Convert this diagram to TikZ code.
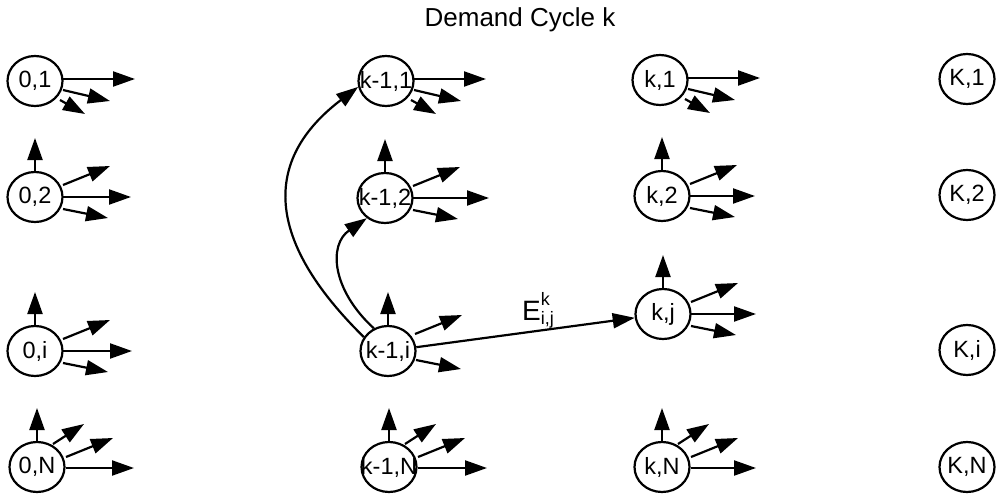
\documentclass[tikz,border=0pt]{standalone}
\usepackage{fontspec}
\setmainfont{Liberation Sans}
\usetikzlibrary{arrows.meta,shapes.geometric}

\newcommand\lblfont{\fontsize{23.5}{23.5}\selectfont}
\newcommand\ttlfont{\fontsize{26}{26}\selectfont}
\newcommand\supfont{\fontsize{18}{18}\selectfont}

% stubs leaving a state: first row (three going right/down)
\newcommand\stubsA[1]{%
  \draw[stub] (#1) ++(28,-2) -- ++(72,0);
  \draw[stub] (#1) ++(28,9) -- ++(47,11);
  \draw[stub] (#1) ++(25,19) -- ++(25,14);}
% middle rows: up, up-right, right, down-right
\newcommand\stubsB[2]{%
  \draw[stub] (#1) ++(0,-25) -- ++(0,-34);
  \draw[stub] (#1) ++(28,-12) -- ++(47,-19);
  \draw[stub] (#1) ++(28,0) -- ++(#2,0);
  \draw[stub] (#1) ++(28,12) -- ++(45,9);}
% last row: up, two rising, right
\newcommand\stubsC[2]{%
  \draw[stub] (#1) ++(0,-26) -- ++(0,-33);
  \draw[stub] (#1) ++(16,-23) -- ++(31,-20);
  \draw[stub] (#1) ++(29,-10) -- ++(47,-19);
  \draw[stub] (#1) ++(29,1) -- ++(#2,0);}

\begin{document}
\begin{tikzpicture}[x=1pt,y=-1pt,
  state/.style={draw, ellipse, line width=2.2pt, minimum width=55pt,
    minimum height=50pt, inner sep=0pt,
    label={[font=\lblfont, inner sep=0pt]center:{#1}}},
  stub/.style={line width=2.2pt, -{Triangle[length=22pt,width=15pt]}},
  link/.style={line width=2.2pt, -{Triangle[length=22pt,width=15pt]}},
]
\useasboundingbox (0,0) rectangle (998,498);

\node[font=\ttlfont, anchor=base] (title) at (520,26) {Demand Cycle k};

% column 0
\node[state={0,1}] (a1) at (35,81) {};
\node[state={0,2}] (a2) at (35,197) {};
\node[state={0,i}] (ai) at (35,351) {};
\node[state={0,N}] (aN) at (37,467) {};
% column k-1
\node[state={k-1,1}] (b1) at (386,81) {};
\node[state={k-1,2}] (b2) at (385,198) {};
\node[state={k-1,i}] (bi) at (388,351) {};
\node[state={k-1,N}] (bN) at (389,467) {};
% column k
\node[state={k,1}] (c1) at (660,80) {};
\node[state={k,2}] (c2) at (662,196) {};
\node[state={k,j}] (cj) at (663,314) {};
\node[state={k,N}] (cN) at (662,467) {};
% column K
\node[state={K,1}] (d1) at (967,79) {};
\node[state={K,2}] (d2) at (967,195) {};
\node[state={K,i}] (di) at (967,350) {};
\node[state={K,N}] (dN) at (967,467) {};

\stubsA{a1}
\stubsB{a2}{68}
\stubsB{ai}{69}
\stubsC{aN}{68}

\stubsA{b1}
\stubsB{b2}{76}
\draw[stub] (bi) ++(0,-25) -- ++(0,-34);
\draw[stub] (bi) ++(27,-17) -- ++(47,-19);
\draw[stub] (bi) ++(28,9) -- ++(45,9);
\stubsC{bN}{69}

\stubsA{c1}
\stubsB{c2}{65}
\stubsB{cj}{65}
\stubsC{cN}{65}

% transitions out of (k-1,i)
\draw[link] (bi.150) .. controls (265,240) and (262,160) .. (b1.192);
\draw[link] (bi.122) .. controls (332,290) and (328,245) .. (b2.228);
\draw[link] (bi) -- (cj);
\node[anchor=base west, inner sep=0pt] (elabel) at (522,320)
  {\fontsize{28}{28}\selectfont E\makebox[0pt][l]{\raisebox{15pt}{\supfont k}}\raisebox{-4pt}{\supfont i,j}};
\end{tikzpicture}
\end{document}
